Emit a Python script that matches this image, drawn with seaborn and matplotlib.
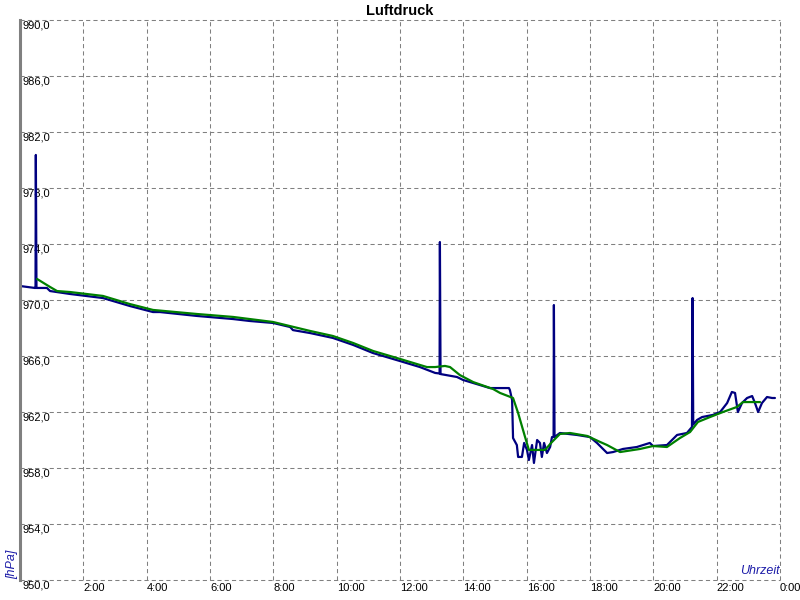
import matplotlib
matplotlib.use("Agg")
import matplotlib.pyplot as plt
import seaborn as sns
import pandas as pd

# Messwerte (Stunde, hPa)
raw_hours = [0.00, 0.47, 0.49, 0.50, 0.52, 0.85, 0.95, 1.58, 2.62, 3.47, 4.20, 4.42,
             5.59, 6.73, 7.26, 7.99, 8.53, 8.62, 9.16, 9.88, 10.52, 11.15, 12.00,
             12.63, 13.11, 13.25, 13.26, 13.28, 13.80, 13.99, 14.84, 15.44, 15.47,
             15.54, 15.57, 15.69, 15.73, 15.85, 15.92, 16.01, 16.07, 16.17, 16.23,
             16.33, 16.42, 16.48, 16.55, 16.64, 16.74, 16.80, 16.85, 16.86, 16.88,
             17.05, 17.59, 18.00, 18.22, 18.54, 18.73, 19.04, 19.48, 19.89, 19.99,
             20.43, 20.75, 21.06, 21.22, 21.24, 21.26, 21.38, 21.54, 21.88, 22.11,
             22.33, 22.48, 22.58, 22.67, 22.80, 22.96, 23.12, 23.21, 23.31, 23.43,
             23.59, 23.75, 23.84]
raw_hpa = [971.00, 970.86, 970.86, 980.36, 970.86, 970.86, 970.64, 970.43, 970.14,
           969.57, 969.14, 969.14, 968.86, 968.64, 968.50, 968.36, 968.07, 967.85,
           967.64, 967.29, 966.79, 966.21, 965.64, 965.21, 964.79, 964.75, 974.14,
           964.71, 964.50, 964.29, 963.71, 963.71, 963.57, 962.86, 960.14, 959.64,
           958.79, 958.79, 959.79, 959.29, 958.57, 959.64, 958.36, 960.00, 959.79,
           958.79, 959.79, 959.07, 959.50, 960.21, 960.21, 969.64, 960.21, 960.50,
           960.36, 960.21, 959.79, 959.07, 959.14, 959.36, 959.50, 959.79, 959.57,
           959.64, 960.36, 960.50, 960.93, 970.14, 961.10, 961.43, 961.64, 961.79,
           962.00, 962.64, 963.43, 963.36, 962.00, 962.64, 963.00, 963.14, 962.64,
           962.00, 962.64, 963.07, 963.00, 963.00]

# geglaetteter Verlauf
smooth_hours = [0.54, 0.95, 1.17, 1.58, 2.62, 3.47, 4.20, 5.59, 6.73, 7.99, 9.16,
                9.88, 10.52, 11.15, 12.00, 12.85, 13.11, 13.42, 13.58, 13.89, 14.31,
                14.94, 15.16, 15.57, 15.73, 15.95, 16.07, 16.58, 16.80, 17.05, 17.37,
                17.91, 18.32, 18.54, 18.95, 19.58, 19.99, 20.43, 20.84, 21.16, 21.41,
                21.79, 22.20, 22.64, 22.83, 23.37]
smooth_hpa = [971.50, 970.93, 970.64, 970.57, 970.29, 969.71, 969.29, 969.00, 968.79,
              968.43, 967.79, 967.43, 966.93, 966.36, 965.79, 965.21, 965.21, 965.29,
              965.21, 964.64, 964.14, 963.64, 963.36, 963.00, 961.93, 960.21, 959.29,
              959.29, 959.86, 960.43, 960.50, 960.29, 959.86, 959.64, 959.14, 959.36,
              959.57, 959.50, 960.14, 960.57, 961.29, 961.64, 962.00, 962.36, 962.71,
              962.71]

x_ticks = list(range(0, 25, 2))
x_labels = [""] + [f"{h}:00" for h in range(2, 24, 2)] + ["0:00"]
y_ticks = list(range(950, 991, 4))
y_labels = [f"{v},0" for v in y_ticks]

sns.set_style("white")
plt.rcParams['font.family'] = ['Liberation Sans', 'DejaVu Sans']

raw = pd.DataFrame({"h": raw_hours, "p": raw_hpa})
smooth = pd.DataFrame({"h": smooth_hours, "p": smooth_hpa})

fig = plt.figure(figsize=(8, 6), dpi=100)
ax = fig.add_axes([0.025, 1 - 580 / 600, 0.95, 560 / 600])

sns.lineplot(data=raw, x="h", y="p", ax=ax, color="#000080", lw=1.6,
             estimator=None, zorder=3)
sns.lineplot(data=smooth, x="h", y="p", ax=ax, color="#008000", lw=1.6,
             estimator=None, zorder=4)

ax.set_xlim(0, 24)
ax.set_ylim(950, 990)
ax.set_xticks(x_ticks)
ax.set_xticklabels(x_labels, ha="left", fontsize=8, color="black")
ax.set_yticks(y_ticks)
ax.set_yticklabels(y_labels, ha="left", va="top", fontsize=8, color="black")
ax.tick_params(axis="y", length=0, pad=-1.5)
ax.tick_params(axis="x", length=0, pad=2)
ax.grid(True, color="#808080", lw=0.75, linestyle=(0, (4, 3)))
ax.set_axisbelow(True)
for gl in ax.get_xgridlines() + ax.get_ygridlines():
    gl.set_clip_on(False)

for s in ["top", "right", "bottom"]:
    ax.spines[s].set_visible(False)
ax.spines["left"].set_color("#808080")
ax.spines["left"].set_linewidth(2.2)
ax.spines["left"].set_zorder(5)

ax.set_xlabel("")
ax.set_ylabel("")
ax.text(-0.0105, 0.002, "[hPa]", rotation=90, ha="center", va="bottom",
        style="italic", color="#1c1ca8", fontsize=9, transform=ax.transAxes)
ax.text(0.999, 0.005, "Uhrzeit", ha="right", va="bottom",
        style="italic", color="#1c1ca8", fontsize=9, transform=ax.transAxes)
fig.text(0.5, 0.982, "Luftdruck", ha="center", va="center",
         fontweight="bold", fontsize=10.5, color="black")

fig.savefig("out.png", dpi=100, facecolor="white")
